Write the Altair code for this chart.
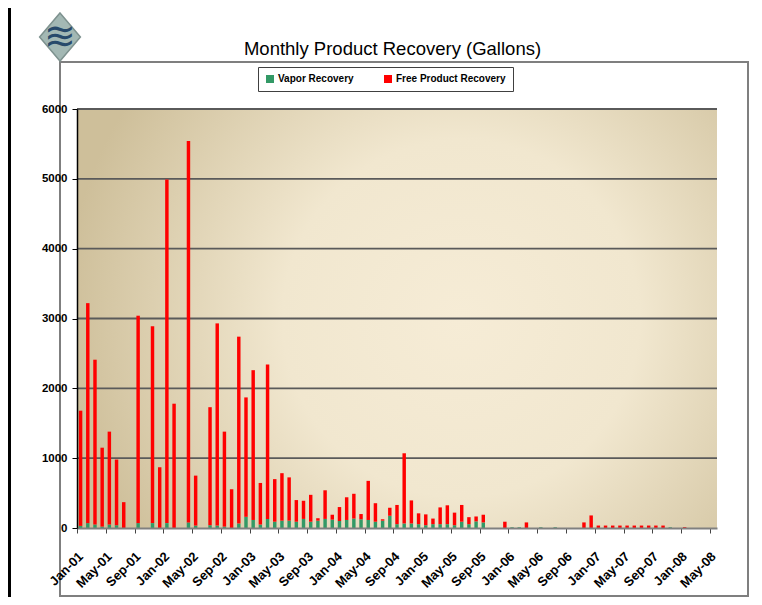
import altair as alt
import pandas as pd

FONT = "Liberation Sans"
W, H = 640, 419

MON = ["Jan", "Feb", "Mar", "Apr", "May", "Jun", "Jul", "Aug", "Sep", "Oct", "Nov", "Dec"]
months = [f"{MON[i % 12]}-{1 + i // 12:02d}" for i in range(89)]
tick_months = months[::4]

series_names = ["Vapor Recovery", "Free Product Recovery"]
series_colors = ["#339966", "#FF0000"]

vapor = [
    30, 70, 50, 20, 50, 40, 0, 0, 70, 0, 70, 0,            # 2001
    70, 0, 0, 80, 35, 0, 40, 35, 20, 0, 65, 160,           # 2002
    115, 50, 130, 90, 105, 105, 90, 130, 90, 105, 130, 120,  # 2003
    100, 115, 135, 125, 115, 90, 105, 175, 55, 65, 65, 55,  # 2004
    40, 55, 55, 55, 40, 90, 55, 95, 80, 0, 0, 0,           # 2005
    10, 10, 0, 0, 10, 0, 10, 0, 0, 0, 0, 0,                # 2006
    0, 0, 0, 0, 0, 0, 0, 0, 0, 0, 10, 0,                   # 2007
    0, 0, 0, 0, 0,                                         # 2008
]
free = [
    1650, 3150, 2360, 1130, 1330, 940, 370, 0, 2970, 0, 2820, 870,
    4920, 1780, 0, 5460, 715, 0, 1690, 2895, 1360, 555, 2675, 1710,
    2145, 595, 2210, 610, 680, 620, 310, 260, 385, 35, 410, 70,
    200, 325, 355, 75, 560, 265, 20, 115, 275, 1005, 330, 155,
    155, 80, 240, 270, 180, 240, 100, 70, 110, 0, 0, 90,
    0, 0, 80, 0, 0, 0, 0, 0, 0, 0, 80, 180,
    35, 35, 35, 35, 35, 35, 35, 35, 35, 35, 0, 0,
    12, 0, 0, 0, 0,
]
y_ticks = [0, 1000, 2000, 3000, 4000, 5000, 6000]
grid_values = [1000, 2000, 3000, 4000, 5000, 6000]

rows = []
for m, v, f in zip(months, vapor, free):
    rows.append({"month": m, "series": series_names[0], "value": v, "ord": 0})
    rows.append({"month": m, "series": series_names[1], "value": f, "ord": 1})
df = pd.DataFrame(rows)

one = pd.DataFrame({"k": [0]})

y_scale = alt.Scale(domain=[0, 6000])
y_axis = alt.Axis(
    values=y_ticks, format="d", title=None, grid=False, labelFont=FONT,
    labelFontWeight="bold", labelFontSize=11.5, labelColor="black",
    labelPadding=5, tickSize=5, tickColor="black", domainColor="black",
    domainWidth=1.5, zindex=1,
)

page_line = alt.Chart(one).mark_rect(color="black").encode(
    x=alt.value(-69), x2=alt.value(-66), y=alt.value(-101), y2=alt.value(488)
)

box = alt.Chart(one).mark_rect(fillOpacity=0, stroke="#7f7f7f", strokeWidth=2).encode(
    x=alt.value(-17), x2=alt.value(671), y=alt.value(-47), y2=alt.value(487)
)

logo = alt.Chart(one).mark_point(
    shape="M0,-1L0.85,0L0,1L-0.85,0Z", size=2304, filled=True,
    fill="#A3B8B4", stroke="#7E928F", strokeWidth=1.5, opacity=1
).encode(x=alt.value(-17), y=alt.value(-72))

logo_text = alt.Chart(one).mark_text(
    text="≋", font="DejaVu Sans", fontSize=38, color="#284A6B",
    align="center", baseline="middle"
).encode(x=alt.value(-17), y=alt.value(-71))

title = alt.Chart(one).mark_text(
    text="Monthly Product Recovery (Gallons)", font=FONT, fontSize=18.5,
    align="center", baseline="alphabetic", color="black"
).encode(x=alt.value(315.5), y=alt.value(-54))

bg = alt.Chart(one).mark_rect(
    fill=alt.RadialGradient(
        gradient="radial",
        stops=[
            alt.GradientStop(color="#F6ECD6", offset=0),
            alt.GradientStop(color="#F1E7CF", offset=0.45),
            alt.GradientStop(color="#CEBF9A", offset=1),
        ],
        x1=0.6, y1=0.5, r1=0, x2=0.6, y2=0.5, r2=0.62,
    )
).encode(x=alt.value(0), x2=alt.value(W), y=alt.value(0), y2=alt.value(H))

grid = alt.Chart(pd.DataFrame({"value": grid_values})).mark_rule(
    color="#5a5a5a", strokeWidth=1.8
).encode(y=alt.Y("value:Q", scale=y_scale, axis=y_axis))

bars = alt.Chart(df).mark_bar().encode(
    x=alt.X(
        "month:N", sort=months,
        scale=alt.Scale(paddingInner=0.52, paddingOuter=0.26),
        axis=alt.Axis(
            values=tick_months, title=None, labelAngle=-45, labelAlign="right",
            labelBaseline="middle", labelFont=FONT, labelFontWeight="bold",
            labelFontSize=13, labelColor="black", labelPadding=21,
            labelOverlap=False, labelBound=False, tickSize=5, tickColor="#444",
            tickOffset=-3.6, labelOffset=3.6, domainColor="#808080",
            domainWidth=2, zindex=1,
        ),
    ),
    y=alt.Y("value:Q", stack="zero", scale=y_scale, axis=y_axis),
    color=alt.Color(
        "series:N",
        scale=alt.Scale(domain=series_names, range=series_colors),
        legend=alt.Legend(
            title=None, orient="none", legendX=181, legendY=-42,
            direction="horizontal", symbolType="square", symbolSize=64,
            symbolStrokeWidth=0, labelFont=FONT, labelFontWeight="bold",
            labelFontSize=10, labelColor="black", labelOffset=3,
            columnPadding=29, padding=7, strokeColor="#404040",
            fillColor="white",
        ),
    ),
    order=alt.Order("ord:Q"),
)

chart = alt.layer(page_line, box, logo, logo_text, title, bg, grid, bars).properties(
    width=W, height=H,
    autosize=alt.AutoSizeParams(type="none"),
    padding={"left": 69, "top": 101, "right": 37, "bottom": 69},
    background="white",
).configure_view(strokeWidth=0)

chart.save("out.html", embed_options={"renderer": "svg", "actions": False})
